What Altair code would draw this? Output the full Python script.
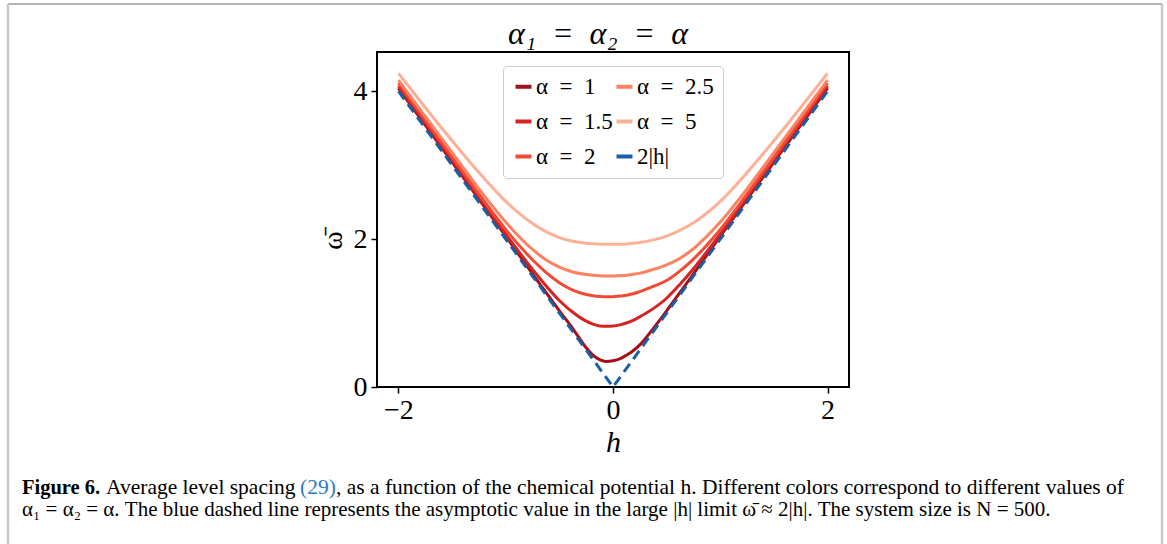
import altair as alt
import pandas as pd

# ---- data ----
h_grid = [-2.0, -1.75, -1.5, -1.25, -1.0, -0.75, -0.625, -0.5, -0.375, -0.25, -0.1875,
          -0.125, -0.0625, 0.0, 0.0625, 0.125, 0.1875, 0.25, 0.375, 0.5, 0.625, 0.75,
          1.0, 1.25, 1.5, 1.75, 2.0]
w_a1 = [4.04, 3.54, 3.04, 2.54, 2.04, 1.53, 1.28, 1.03, 0.79, 0.53, 0.43,
        0.37, 0.345, 0.355, 0.38, 0.43, 0.49, 0.57, 0.79, 1.03, 1.28, 1.53,
        2.04, 2.54, 3.04, 3.54, 4.04]
w_a15 = [4.07, 3.57, 3.07, 2.57, 2.07, 1.59, 1.37, 1.17, 1.01, 0.89, 0.85,
         0.825, 0.82, 0.825, 0.84, 0.865, 0.90, 0.95, 1.06, 1.20, 1.39, 1.60,
         2.07, 2.57, 3.07, 3.57, 4.07]
w_a2 = [4.11, 3.61, 3.11, 2.61, 2.13, 1.72, 1.55, 1.41, 1.31, 1.25, 1.235,
        1.225, 1.22, 1.222, 1.23, 1.24, 1.26, 1.29, 1.36, 1.44, 1.57, 1.73,
        2.13, 2.61, 3.11, 3.61, 4.11]
w_a25 = [4.15, 3.66, 3.17, 2.68, 2.23, 1.86, 1.72, 1.62, 1.555, 1.52, 1.51,
         1.503, 1.50, 1.50, 1.505, 1.512, 1.525, 1.54, 1.59, 1.65, 1.74, 1.87,
         2.23, 2.68, 3.17, 3.66, 4.15]
w_a5 = [4.24, 3.78, 3.33, 2.90, 2.51, 2.21, 2.10, 2.02, 1.97, 1.945, 1.938,
        1.932, 1.93, 1.93, 1.931, 1.935, 1.943, 1.955, 1.99, 2.04, 2.12, 2.22,
        2.51, 2.90, 3.33, 3.78, 4.24]
dash_h = [-2.0, 0.0, 2.0]
dash_w = [4.0, 0.0, 4.0]

NB = "\u00a0"
series_labels = [f"α{NB}{NB}={NB}{NB}{v}" for v in ["1", "1.5", "2", "2.5", "5"]]
series_values = [w_a1, w_a15, w_a2, w_a25, w_a5]
dash_label = "2|h|"

rows = []
for lab, vals in zip(series_labels, series_values):
    for h, w in zip(h_grid, vals):
        rows.append({"h": h, "w": w, "series": lab})
curves = pd.DataFrame(rows)
dashed = pd.DataFrame({"h": dash_h, "w": dash_w, "series": [dash_label] * len(dash_h)})

legend_order = series_labels + [dash_label]
color_list = ["#a50f15", "#d42322", "#f24a35", "#fc8262", "#fcb095", "#1a5fa6"]
color_scale = alt.Scale(domain=legend_order, range=color_list)

SERIF = "Liberation Serif"

x_enc = alt.X("h:Q", scale=alt.Scale(domain=[-2.2, 2.2], nice=False, zero=False),
              axis=alt.Axis(values=[-2, 0, 2], title="h", titleFontStyle="italic",
                            titleFontSize=30, titleFontWeight="normal", titleFont=SERIF,
                            titleX=236, titleY=64, titleBaseline="alphabetic",
                            titleAlign="center", labelPadding=3, labelFont=SERIF,
                            labelFontSize=28, labelColor="black"))
y_enc = alt.Y("w:Q", scale=alt.Scale(domain=[0, 4.53], nice=False),
              axis=alt.Axis(values=[0, 2, 4], title="ω̄", titleFontSize=28,
                            titleFontWeight="normal", titleFont=SERIF,
                            titleX=-44, titleY=188, titleAngle=270,
                            titleAlign="center", titleBaseline="middle", labelPadding=4,
                            labelFont=SERIF, labelFontSize=28, labelColor="black"))
color_enc = alt.Color("series:N", scale=color_scale,
                      legend=alt.Legend(title=None, orient="none", legendX=126, legendY=14,
                                        columns=2, symbolType="stroke", symbolStrokeWidth=4,
                                        symbolSize=256, labelFont=SERIF, labelFontSize=23,
                                        labelColor="black", rowPadding=11, columnPadding=-6,
                                        padding=9, fillColor="white", strokeColor="#cccccc",
                                        cornerRadius=4, labelOffset=1, symbolOpacity=1))

lines = alt.Chart(curves).mark_line(strokeWidth=3, interpolate="monotone").encode(
    x=x_enc, y=y_enc, color=color_enc, order=alt.Order("h:Q"))
dash_line = alt.Chart(dashed).mark_line(strokeWidth=3, strokeDash=[10, 6]).encode(
    x=x_enc, y=y_enc, color=color_enc)


def txt(s, x, y, size=21.5, weight="normal", style="normal", color="black", align="left"):
    return alt.Chart(pd.DataFrame({"t": [s]})).mark_text(
        align=align, baseline="alphabetic", font=SERIF, fontSize=size,
        fontWeight=weight, fontStyle=style, color=color).encode(
        text="t:N", x=alt.value(x), y=alt.value(y))


def rule(x, y, x2, y2, color, width):
    return alt.Chart(pd.DataFrame({"a": [0]})).mark_rule(color=color, strokeWidth=width).encode(
        x=alt.value(x), y=alt.value(y), x2=alt.value(x2), y2=alt.value(y2))


SP = NB * 2
title = txt(f"α₁{SP}={SP}α₂{SP}={SP}α", 221, -8, size=32, style="italic", align="center")

caption = [
    txt("Figure 6.", -355, 442, weight="bold", size=20.5),
    txt("Average level spacing", -271, 442),
    txt("(29)", -77, 442, color="#2b7bba"),
    txt(", as a function of the chemical potential h. Different colors correspond to "
        "different values of", -41, 442),
    txt("α₁ = α₂ = α. The blue dashed line represents the asymptotic value in the large |h| "
        "limit ω̄ ≈ 2|h|. The system size is N = 500.", -355, 464, size=21),
]
frame = [
    rule(-369, -48, 785, -48, "#9a9a9a", 1.5),
    rule(-369, -48, -369, 492, "#c8c8c8", 2.5),
    rule(785, -48, 785, 492, "#c8c8c8", 2.5),
]

chart = alt.layer(lines, dash_line, title, *caption, *frame).properties(
    width=472, height=335, autosize="none", background="white",
    padding={"left": 377, "top": 52, "right": 318, "bottom": 157},
).configure_view(stroke="black", strokeWidth=2).configure_axis(
    domain=False, grid=False, tickColor="black", tickWidth=1.5, tickSize=6,
    labelFont=SERIF, labelFontSize=28, labelColor="black", titleColor="black"
)

chart.save("out.html", embed_options={"renderer": "svg", "actions": False})
